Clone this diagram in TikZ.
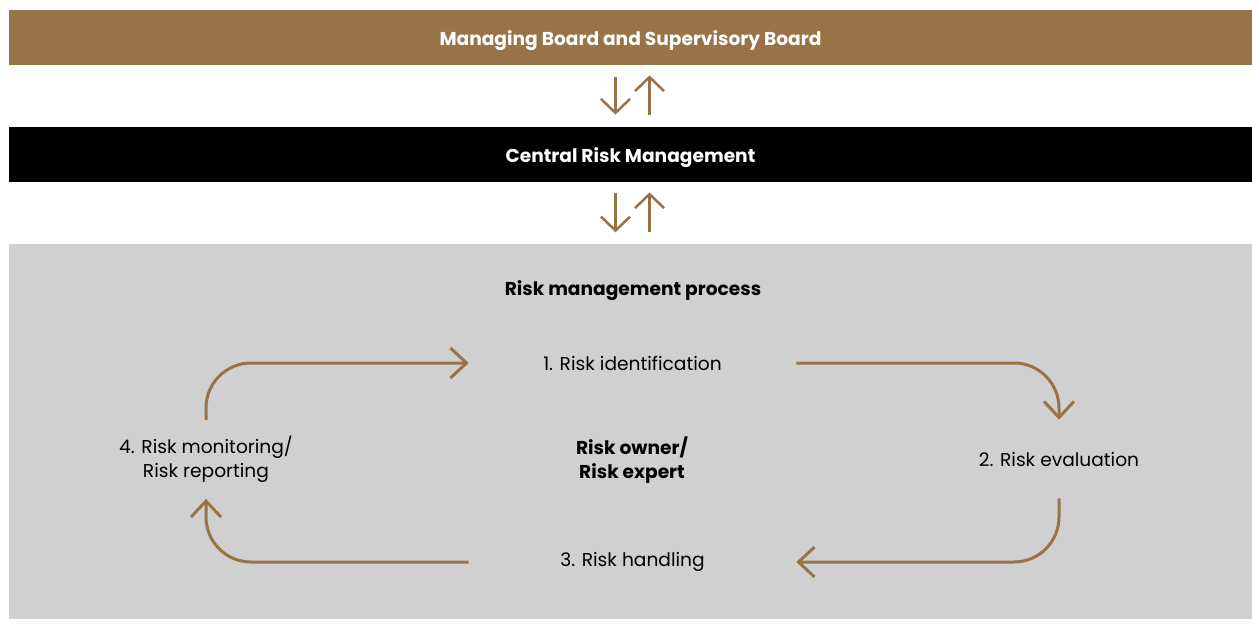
\documentclass[tikz,border=0pt]{standalone}
\usepackage{fontspec}
\setmainfont{Poppins}
\usetikzlibrary{arrows.meta,positioning}
\definecolor{boardcol}{RGB}{153,115,72}
\definecolor{processcol}{RGB}{208,208,208}
\tikzset{
  bar/.style={rectangle,minimum width=24.86cm,minimum height=1.1cm,inner sep=0pt,text=white,text height=1.6ex,text depth=0pt,font=\fontsize{10.6}{12}\selectfont\bfseries},
  stage/.style={inner sep=0pt,minimum width=6.54cm,minimum height=1.56cm,align=center,font=\fontsize{10.6}{13.6}\selectfont},
  cyc/.style={-{Straight Barb[length=0.32cm,width=0.6cm]},boardcol,line width=0.06cm,rounded corners=0.9cm},
  arr/.style={-{Straight Barb[length=0.28cm,width=0.58cm]},boardcol,line width=0.05cm}
}
\begin{document}
\begin{tikzpicture}[x=0.02cm,y=-0.02cm]
  \useasboundingbox (0,0) rectangle (1252,633);
  \fill[processcol] (9,244) rectangle (1252,619);
  \node[bar,fill=boardcol] (board) at (630.5,37.5) {Managing Board and Supervisory Board};
  \node[bar,fill=black] (central) at (630.5,154.5) {Central Risk Management};
  \node[font=\fontsize{10.6}{13.6}\selectfont\bfseries] (title) at (633,291) {Risk management process};
  % up and down between the levels
  \draw[arr] ([xshift=-0.3cm,yshift=-0.24cm]board.south) -- ([xshift=-0.3cm,yshift=0.24cm]central.north);
  \draw[arr] ([xshift=0.38cm,yshift=0.24cm]central.north) -- ([xshift=0.38cm,yshift=-0.2cm]board.south);
  \draw[arr] ([xshift=-0.3cm,yshift=-0.22cm]central.south) -- ([xshift=-0.3cm,yshift=-1.0cm]central.south);
  \draw[arr] ([xshift=0.38cm,yshift=-1.0cm]central.south) -- ([xshift=0.38cm,yshift=-0.2cm]central.south);
  % the cycle
  \node[stage] (ident) at (632.5,363) {1. Risk identification};
  \node[stage] (eval) at (1059,459) {2. Risk evaluation};
  \node[stage] (handle) at (632.5,562) {3. Risk handling};
  \node[stage] (mon) at (206,459.5) {4. Risk monitoring/\\Risk reporting};
  \node[stage,font=\fontsize{10.6}{13.6}\selectfont\bfseries] (owner) at (632,460) {Risk owner/\\Risk expert};
  \draw[cyc] (mon.north) |- (ident.west);
  \draw[cyc] (ident.east) -| (eval.north);
  \draw[cyc] (eval.south) |- (handle.east);
  \draw[cyc] (handle.west) -| (mon.south);
\end{tikzpicture}
\end{document}
